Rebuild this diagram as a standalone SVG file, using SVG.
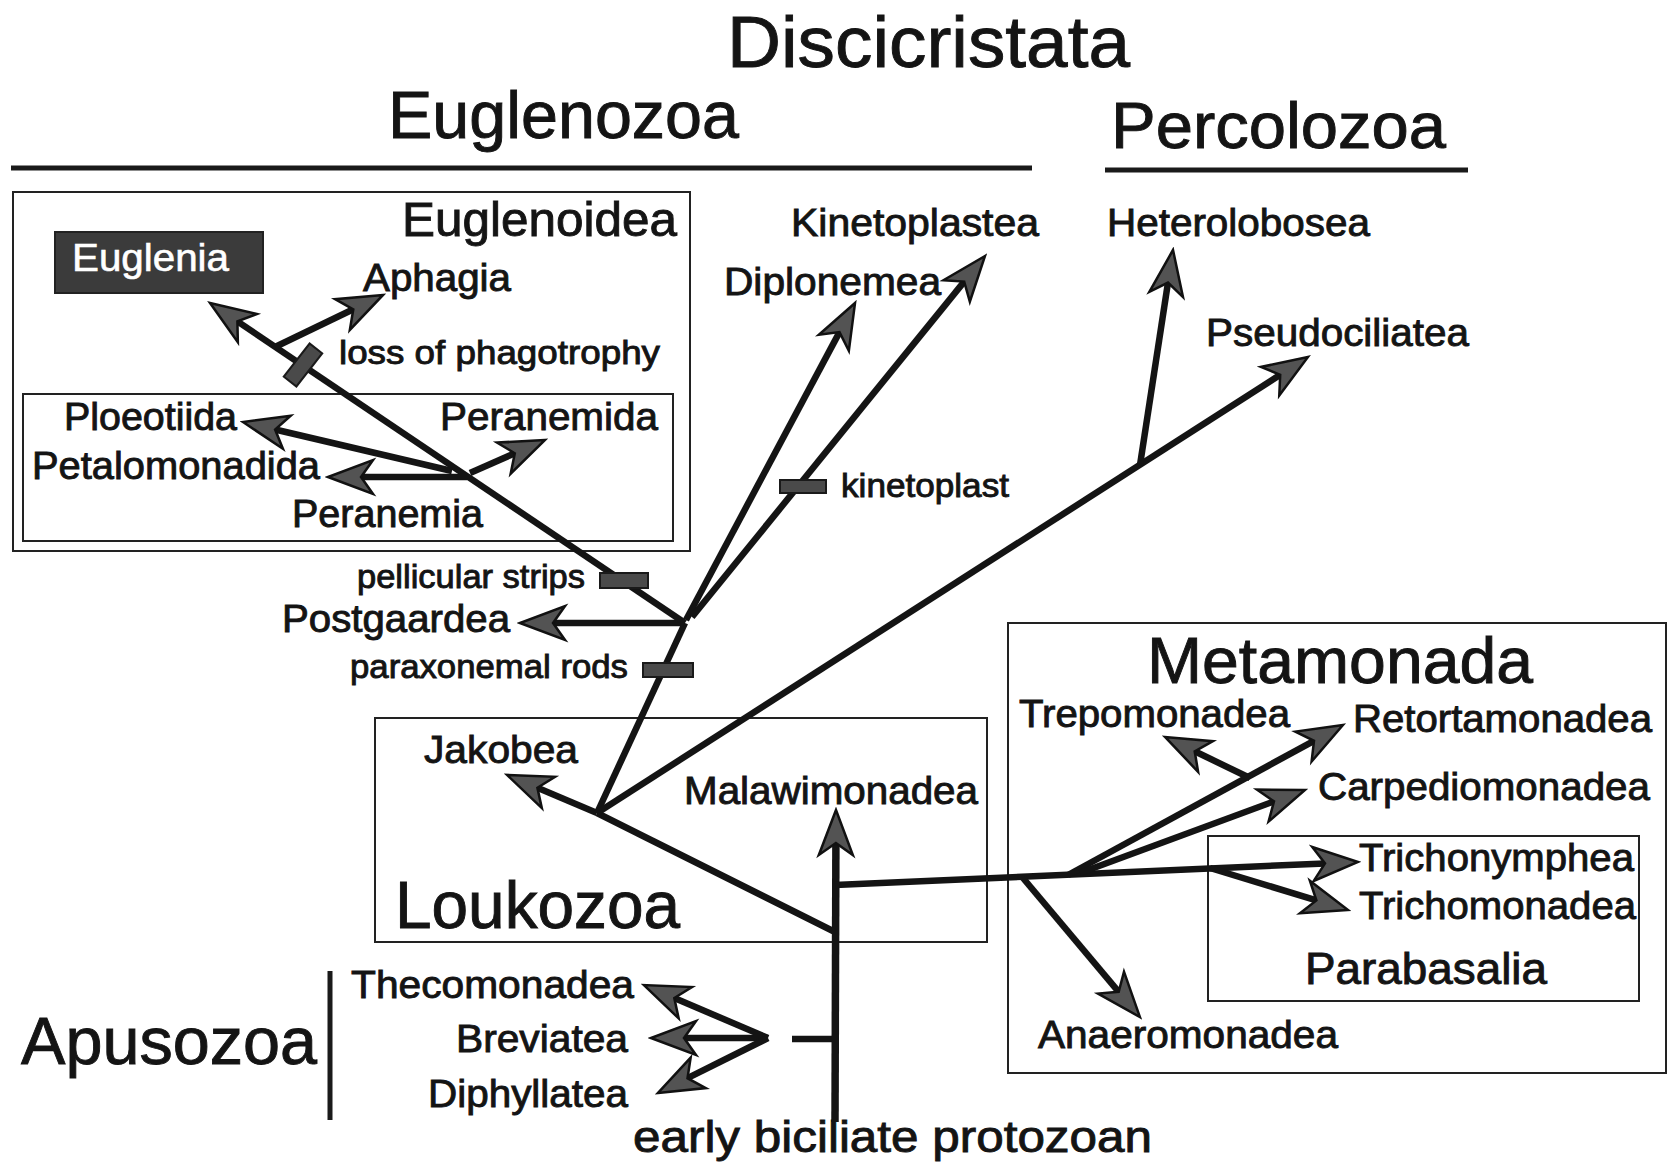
<svg xmlns="http://www.w3.org/2000/svg" width="1669" height="1166" viewBox="0 0 1669 1166">
<defs>
<style>
.t{font-family:"Liberation Sans",Arial,Helvetica,sans-serif;fill:#141414;stroke:#141414;stroke-width:0.9px;paint-order:stroke}
.lbl{font-size:38.5px}
.hd{font-size:66px}
.note{font-size:33px}
.br{stroke:#141414;stroke-width:6.5;fill:none;stroke-linecap:butt}
.arr{marker-end:url(#ah)}
.box{fill:none;stroke:#222;stroke-width:2}
.bar{fill:#4a4a4a;stroke:#1a1a1a;stroke-width:2}
.rule{stroke:#1a1a1a;stroke-width:5}
</style>
<marker id="ah" markerUnits="userSpaceOnUse" viewBox="-16 -21 52 42" markerWidth="52" markerHeight="42" refX="0" refY="0" orient="auto">
<path d="M33,0 L-12,-17 L0,0 L-12,17 Z" fill="#535353" stroke="#111" stroke-width="2.5"/>
</marker>
</defs>
<rect width="1669" height="1166" fill="#fff"/>

<g id="headings">
<text class="t" x="727" y="67" font-size="73" textLength="403" lengthAdjust="spacingAndGlyphs">Discicristata</text>
<text class="t hd" x="388" y="138" textLength="351" lengthAdjust="spacingAndGlyphs">Euglenozoa</text>
<line class="rule" x1="11" y1="168" x2="1032" y2="168"/>
<text class="t" x="1111" y="148" font-size="65" textLength="335" lengthAdjust="spacingAndGlyphs">Percolozoa</text>
<line class="rule" x1="1105" y1="170" x2="1468" y2="170"/>
</g>

<g id="euglenoidea">
<rect class="box" x="13" y="192" width="677" height="359"/>
<text class="t" x="402" y="236" font-size="48" textLength="275" lengthAdjust="spacingAndGlyphs">Euglenoidea</text>
</g>
<g id="euglenia">
<rect x="55" y="232" width="208" height="61" fill="#3b3b3b" stroke="#222" stroke-width="2"/>
<text class="t" x="72" y="271" font-size="38" textLength="157" lengthAdjust="spacingAndGlyphs" style="fill:#fff;stroke:#fff;stroke-width:0.6px">Euglenia</text>
</g>
<g id="aphagia"><text class="t lbl" x="363" y="291" textLength="148" lengthAdjust="spacingAndGlyphs">Aphagia</text></g>
<g id="peranemia-box">
<rect class="box" x="23" y="394" width="650" height="147"/>
<text class="t lbl" x="292" y="527" textLength="191" lengthAdjust="spacingAndGlyphs">Peranemia</text>
</g>
<g id="ploeotiida"><text class="t lbl" x="64" y="430" textLength="173" lengthAdjust="spacingAndGlyphs">Ploeotiida</text></g>
<g id="peranemida"><text class="t lbl" x="440" y="430" textLength="218" lengthAdjust="spacingAndGlyphs">Peranemida</text></g>
<g id="petalomonadida"><text class="t lbl" x="32" y="479" textLength="288" lengthAdjust="spacingAndGlyphs">Petalomonadida</text></g>
<g id="kinetoplastea"><text class="t lbl" x="791" y="236" textLength="248" lengthAdjust="spacingAndGlyphs">Kinetoplastea</text></g>
<g id="diplonemea"><text class="t lbl" x="724" y="295" textLength="217" lengthAdjust="spacingAndGlyphs">Diplonemea</text></g>
<g id="heterolobosea"><text class="t lbl" x="1107" y="236" textLength="263" lengthAdjust="spacingAndGlyphs">Heterolobosea</text></g>
<g id="pseudociliatea"><text class="t lbl" x="1206" y="346" textLength="263" lengthAdjust="spacingAndGlyphs">Pseudociliatea</text></g>
<g id="postgaardea"><text class="t lbl" x="282" y="632" textLength="228" lengthAdjust="spacingAndGlyphs">Postgaardea</text></g>

<g id="loukozoa">
<rect class="box" x="375" y="718" width="612" height="224"/>
<text class="t hd" x="395" y="928" textLength="285" lengthAdjust="spacingAndGlyphs">Loukozoa</text>
</g>
<g id="jakobea"><text class="t lbl" x="424" y="763" textLength="154" lengthAdjust="spacingAndGlyphs">Jakobea</text></g>
<g id="malawimonadea"><text class="t lbl" x="684" y="804" textLength="294" lengthAdjust="spacingAndGlyphs">Malawimonadea</text></g>

<g id="metamonada">
<rect class="box" x="1008" y="623" width="658" height="450"/>
<text class="t" x="1147" y="683" font-size="64" textLength="386" lengthAdjust="spacingAndGlyphs">Metamonada</text>
</g>
<g id="trepomonadea"><text class="t lbl" x="1019" y="727" textLength="271" lengthAdjust="spacingAndGlyphs">Trepomonadea</text></g>
<g id="retortamonadea"><text class="t lbl" x="1353" y="732" textLength="299" lengthAdjust="spacingAndGlyphs">Retortamonadea</text></g>
<g id="carpediomonadea"><text class="t lbl" x="1318" y="800" textLength="332" lengthAdjust="spacingAndGlyphs">Carpediomonadea</text></g>
<g id="parabasalia">
<rect class="box" x="1208" y="836" width="431" height="165"/>
<text class="t" x="1305" y="984" font-size="44" textLength="242" lengthAdjust="spacingAndGlyphs">Parabasalia</text>
</g>
<g id="trichonymphea"><text class="t lbl" x="1359" y="871" textLength="275" lengthAdjust="spacingAndGlyphs">Trichonymphea</text></g>
<g id="trichomonadea"><text class="t lbl" x="1359" y="919" textLength="277" lengthAdjust="spacingAndGlyphs">Trichomonadea</text></g>
<g id="anaeromonadea"><text class="t lbl" x="1038" y="1048" textLength="300" lengthAdjust="spacingAndGlyphs">Anaeromonadea</text></g>

<g id="apusozoa">
<text class="t hd" x="21" y="1064" textLength="296" lengthAdjust="spacingAndGlyphs">Apusozoa</text>
<line class="rule" x1="330" y1="971" x2="330" y2="1120"/>
</g>
<g id="thecomonadea"><text class="t lbl" x="351" y="998" textLength="283" lengthAdjust="spacingAndGlyphs">Thecomonadea</text></g>
<g id="breviatea"><text class="t lbl" x="456" y="1052" textLength="172" lengthAdjust="spacingAndGlyphs">Breviatea</text></g>
<g id="diphyllatea"><text class="t lbl" x="428" y="1107" textLength="200" lengthAdjust="spacingAndGlyphs">Diphyllatea</text></g>
<g id="root"><text class="t" x="633" y="1152" font-size="44" textLength="519" lengthAdjust="spacingAndGlyphs">early biciliate protozoan</text></g>

<g id="connectors">
<line class="br" x1="835" y1="1122" x2="835.9" y2="843" style="stroke-width:7.5" marker-end="url(#ah)"/>
<line class="br" x1="792" y1="1039" x2="835" y2="1039"/>
<line class="br arr" x1="768" y1="1038" x2="674.3" y2="998"/>
<line class="br arr" x1="768" y1="1038" x2="684" y2="1038"/>
<line class="br arr" x1="768" y1="1038" x2="687.5" y2="1078.2"/>
<line class="br" x1="835" y1="932" x2="597" y2="813"/>
<line class="br arr" x1="597" y1="813" x2="537.4" y2="787.8"/>
<line class="br" x1="597" y1="813" x2="685" y2="623"/>
<line class="br arr" x1="597" y1="813" x2="1280.2" y2="374.8"/>
<line class="br arr" x1="1140" y1="465" x2="1168" y2="282.6"/>
<line class="br arr" x1="685" y1="623" x2="553" y2="623"/>
<line class="br arr" x1="685" y1="623" x2="237.4" y2="321.4"/>
<line class="br arr" x1="275" y1="347" x2="353.3" y2="309.3"/>
<line class="br arr" x1="452" y1="471" x2="275.1" y2="429.5"/>
<line class="br arr" x1="467" y1="477" x2="361" y2="477"/>
<line class="br arr" x1="470" y1="473" x2="514.8" y2="453.3"/>
<line class="br arr" x1="686" y1="620" x2="839.5" y2="332.1"/>
<line class="br arr" x1="692" y1="617" x2="964.2" y2="281.6"/>
<line class="br arr" x1="835" y1="885" x2="1325" y2="863.4"/>
<line class="br arr" x1="1023" y1="878" x2="1118.7" y2="991.8"/>
<line class="br arr" x1="1068" y1="875" x2="1314" y2="740.8"/>
<line class="br arr" x1="1080" y1="873" x2="1274" y2="801.4"/>
<line class="br arr" x1="1250" y1="778" x2="1194.7" y2="751.3"/>
<line class="br arr" x1="1210" y1="868" x2="1316.4" y2="900.4"/>
</g>

<g id="characters">
<rect class="bar" x="600" y="573" width="48" height="15"/>
<rect class="bar" x="643" y="663" width="50" height="14"/>
<rect class="bar" x="780" y="480" width="46" height="13"/>
<rect class="bar" x="-21" y="-8" width="42" height="16" transform="translate(303,365) rotate(-52)"/>
<text class="t note" x="339" y="364" font-size="34.5" textLength="321" lengthAdjust="spacingAndGlyphs">loss of phagotrophy</text>
<text class="t note" x="841" y="497" textLength="168" lengthAdjust="spacingAndGlyphs">kinetoplast</text>
<text class="t note" x="357" y="588" textLength="228" lengthAdjust="spacingAndGlyphs">pellicular strips</text>
<text class="t note" x="350" y="678" textLength="278" lengthAdjust="spacingAndGlyphs">paraxonemal rods</text>
</g>
</svg>
